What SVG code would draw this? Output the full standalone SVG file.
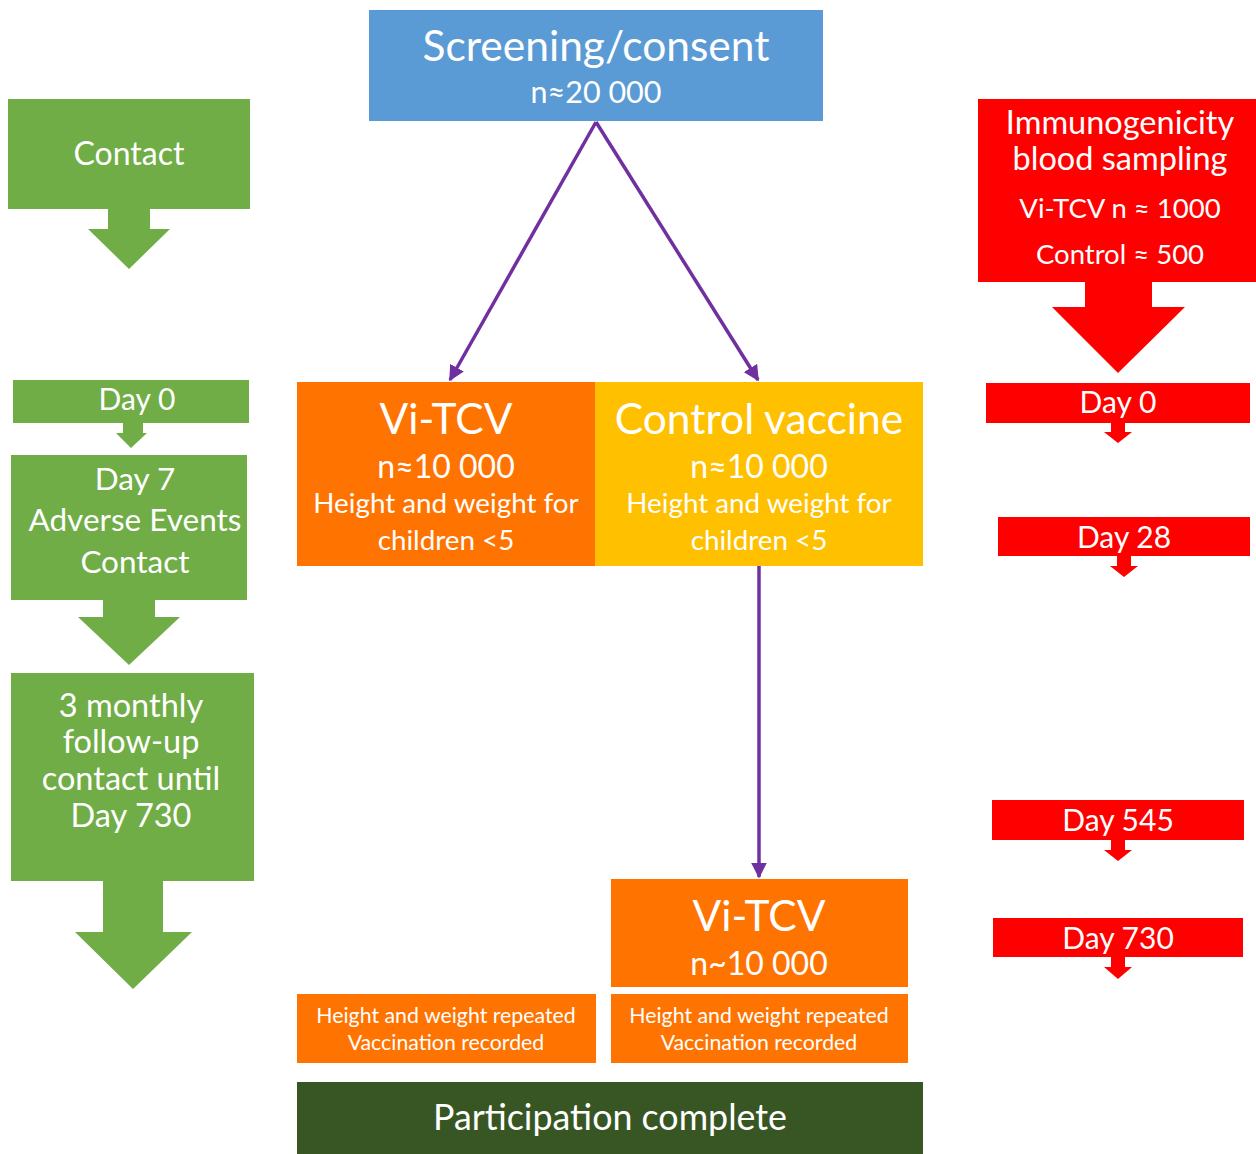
<svg xmlns="http://www.w3.org/2000/svg" width="1256" height="1154" viewBox="0 0 1256 1154">
  <style>
    text { font-family: Lato, "Open Sans", "Liberation Sans", sans-serif; fill: #ffffff; text-anchor: middle; }
    .green { fill: #70AD47; }
    .red { fill: #FF0000; }
    .orange { fill: #FF7300; }
    .gold { fill: #FFC000; }
    .blue { fill: #5B9BD5; }
    .dark { fill: #375623; }
    .link { stroke: #7030A0; stroke-width: 3.5; fill: none; marker-end: url(#arrow); }
  </style>
  <defs>
    <marker id="arrow" viewBox="0 0 10 10" refX="9" refY="5" markerWidth="4.5" markerHeight="4.5" orient="auto" markerUnits="strokeWidth">
      <path d="M0,0 L10,5 L0,10 Z" fill="#7030A0"/>
    </marker>
  </defs>

  <rect width="1256" height="1154" fill="#ffffff"/>

  <!-- centre column -->
  <g id="screening">
    <rect class="blue" x="369" y="10" width="454" height="111"/>
    <text x="596" y="61" font-size="42.5">Screening/consent</text>
    <text x="596" y="103" font-size="30.5">n≈20 000</text>
  </g>

  <g id="vitcv-arm">
    <rect class="orange" x="297" y="382" width="299" height="184"/>
    <text x="446" y="434" font-size="42.5">Vi-TCV</text>
    <text x="446" y="478" font-size="32">n≈10 000</text>
    <text x="446" y="513" font-size="27.8">Height and weight for</text>
    <text x="446" y="550" font-size="27.8">children &lt;5</text>
  </g>

  <g id="control-arm">
    <rect class="gold" x="595" y="382" width="328" height="184"/>
    <text x="759" y="434" font-size="42.5">Control vaccine</text>
    <text x="759" y="478" font-size="32">n≈10 000</text>
    <text x="759" y="513" font-size="27.8">Height and weight for</text>
    <text x="759" y="550" font-size="27.8">children &lt;5</text>
  </g>

  <g id="vitcv-crossover">
    <rect class="orange" x="611" y="879" width="297" height="108"/>
    <text x="759" y="931" font-size="42.5">Vi-TCV</text>
    <text x="759" y="975" font-size="32">n~10 000</text>
  </g>

  <g id="repeat-left">
    <rect class="orange" x="297" y="994" width="299" height="69"/>
    <text x="446" y="1023" font-size="21.3">Height and weight repeated</text>
    <text x="446" y="1050" font-size="21.3">Vaccination recorded</text>
  </g>

  <g id="repeat-right">
    <rect class="orange" x="611" y="994" width="297" height="69"/>
    <text x="759" y="1023" font-size="21.3">Height and weight repeated</text>
    <text x="759" y="1050" font-size="21.3">Vaccination recorded</text>
  </g>

  <g id="complete">
    <rect class="dark" x="297" y="1082" width="626" height="72"/>
    <text x="610" y="1130" font-size="35.8">Participation complete</text>
  </g>

  <!-- connectors -->
  <g id="connectors">
    <line class="link" x1="596" y1="122" x2="450" y2="380"/>
    <line class="link" x1="596" y1="122" x2="758" y2="380"/>
    <line class="link" x1="759" y1="566" x2="759" y2="877"/>
  </g>

  <!-- follow-up column (green block arrows) -->
  <g id="contact">
    <rect class="green" x="8" y="99" width="242" height="110"/>
    <path class="green" d="M108,209 H150 V229 H170 L129,269 L88,229 H108 Z"/>
    <text x="129" y="165" font-size="32">Contact</text>
  </g>

  <g id="green-day0">
    <rect class="green" x="13" y="380" width="236" height="43"/>
    <path class="green" d="M123,423 H143 V433 H147 L131,448 L116,433 H123 Z"/>
    <text x="137" y="410" font-size="30">Day 0</text>
  </g>

  <g id="day7">
    <rect class="green" x="11" y="455" width="236" height="145"/>
    <path class="green" d="M103,600 H155 V617 H180 L129,665 L78,617 H103 Z"/>
    <text x="135" y="490" font-size="31.5">Day 7</text>
    <text x="135" y="531" font-size="31.5">Adverse Events</text>
    <text x="135" y="573" font-size="31.5">Contact</text>
  </g>

  <g id="monthly">
    <rect class="green" x="11" y="673" width="243" height="208"/>
    <path class="green" d="M103,881 H163 V932 H192 L133,989 L75,932 H103 Z"/>
    <text x="131" y="717" font-size="32.5">3 monthly</text>
    <text x="131" y="753" font-size="32.5">follow-up</text>
    <text x="131" y="790" font-size="32.5">contact until</text>
    <text x="131" y="827" font-size="32.5">Day 730</text>
  </g>

  <!-- immunogenicity column (red block arrows) -->
  <g id="immunogenicity">
    <rect class="red" x="978" y="99" width="278" height="183"/>
    <path class="red" d="M1085,282 H1152 V307 H1185 L1118,373 L1052,307 H1085 Z"/>
    <text x="1120" y="134" font-size="32.5">Immunogenicity</text>
    <text x="1120" y="170" font-size="32.5">blood sampling</text>
    <text x="1120" y="218" font-size="27.5">Vi-TCV n ≈ 1000</text>
    <text x="1120" y="264" font-size="27.5">Control ≈ 500</text>
  </g>

  <g id="red-day0">
    <rect class="red" x="986" y="383" width="264" height="40"/>
    <path class="red" d="M1111,423 H1125 V432 H1132 L1118,443 L1104,432 H1111 Z"/>
    <text x="1118" y="413" font-size="30">Day 0</text>
  </g>

  <g id="red-day28">
    <rect class="red" x="998" y="517" width="252" height="39"/>
    <path class="red" d="M1117,556 H1131 V566 H1138 L1124,577 L1110,566 H1117 Z"/>
    <text x="1124" y="548" font-size="30">Day 28</text>
  </g>

  <g id="red-day545">
    <rect class="red" x="992" y="800" width="252" height="40"/>
    <path class="red" d="M1111,840 H1125 V850 H1132 L1118,861 L1104,850 H1111 Z"/>
    <text x="1118" y="831" font-size="30">Day 545</text>
  </g>

  <g id="red-day730">
    <rect class="red" x="993" y="918" width="250" height="39"/>
    <path class="red" d="M1111,957 H1125 V967 H1132 L1118,979 L1104,967 H1111 Z"/>
    <text x="1118" y="949" font-size="30">Day 730</text>
  </g>
</svg>
